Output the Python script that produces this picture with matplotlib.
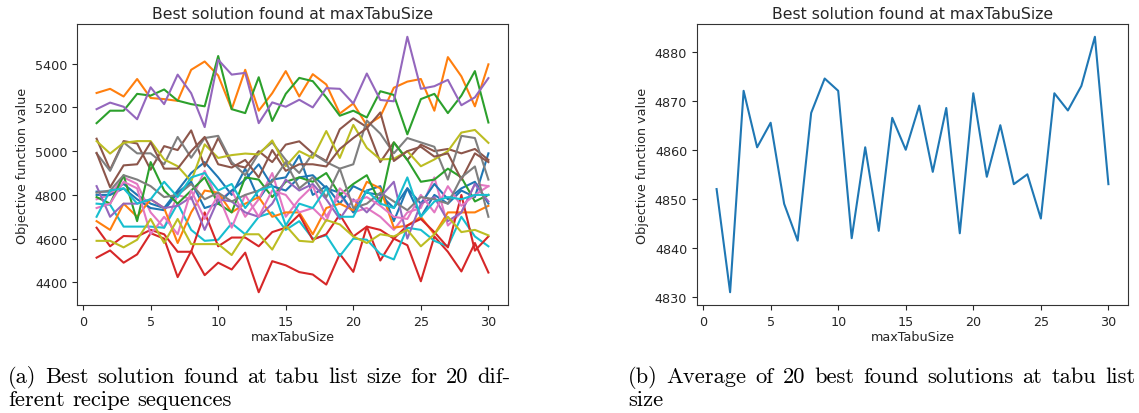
import numpy as np
import matplotlib.pyplot as plt

# maxTabuSize values
tabu_sizes = list(range(1, 31))

# best objective value per recipe sequence (20 sequences)
seq_blue_a = [4815, 4815, 4850, 4800, 4760, 4740, 4820, 4900, 4950, 4880, 4800, 4920, 4780, 4870, 4880,
              4980, 4800, 4840, 4760, 4840, 4810, 4800, 4740, 4830, 4700, 4800, 4760, 4820, 4790, 4990]
seq_orange_a = [5266, 5285, 5250, 5330, 5243, 5238, 5230, 5372, 5410, 5346, 5192, 5372, 5185, 5265, 5366,
                5250, 5352, 5305, 5172, 5218, 5118, 5158, 5290, 5318, 5330, 5185, 5430, 5342, 5205, 5397]
seq_green_a = [5128, 5185, 5185, 5262, 5254, 5282, 5231, 5215, 5205, 5435, 5192, 5174, 5338, 5138, 5262,
               5335, 5320, 5246, 5162, 5185, 5154, 5274, 5257, 5077, 5238, 5262, 5174, 5254, 5366, 5131]
seq_red_a = [4513, 4546, 4490, 4528, 4625, 4600, 4424, 4543, 4433, 4490, 4459, 4536, 4355, 4497, 4478,
             4447, 4436, 4390, 4530, 4448, 4655, 4500, 4600, 4570, 4405, 4610, 4540, 4450, 4580, 4445]
seq_purple_a = [5192, 5222, 5203, 5146, 5292, 5215, 5350, 5265, 5110, 5418, 5350, 5358, 5128, 5223, 5203,
                5235, 5200, 5288, 5285, 5218, 5355, 5234, 5228, 5523, 5285, 5297, 5326, 5210, 5246, 5334]
seq_brown_a = [5057, 4915, 5046, 5035, 4915, 5023, 5005, 5095, 4930, 5060, 4940, 4925, 5000, 4950, 5030,
               5045, 4990, 4955, 5100, 5150, 5110, 4950, 5040, 4960, 5030, 5000, 5010, 4990, 5010, 4960]
seq_pink_a = [4780, 4800, 4880, 4850, 4720, 4650, 4800, 4780, 4910, 4770, 4820, 4700, 4780, 4900, 4700,
              4780, 4840, 4700, 4800, 4720, 4740, 4700, 4640, 4720, 4740, 4880, 4660, 4720, 4850, 4840]
seq_gray_a = [4990, 4910, 5040, 4990, 4990, 4940, 5065, 4970, 5060, 5070, 4950, 4890, 4990, 5040, 4960,
              4900, 4990, 4950, 4920, 4940, 5140, 5080, 4990, 5060, 5040, 5020, 4870, 5070, 5060, 4870]
seq_olive_a = [5046, 4989, 5038, 5046, 5046, 4962, 4931, 4862, 5031, 4969, 4982, 4989, 4985, 5049, 4931,
               5000, 4969, 5092, 4969, 5120, 5015, 4962, 4965, 5000, 4931, 4962, 5000, 5085, 5097, 5038]
seq_cyan_a = [4760, 4755, 4655, 4655, 4655, 4650, 4760, 4640, 4590, 4595, 4670, 4620, 4700, 4720, 4640,
              4680, 4600, 4615, 4520, 4600, 4595, 4530, 4505, 4650, 4640, 4590, 4565, 4700, 4610, 4565]
seq_blue_b = [4800, 4800, 4830, 4780, 4740, 4730, 4810, 4860, 4740, 4760, 4820, 4870, 4940, 4840, 4820,
              4880, 4890, 4830, 4810, 4720, 4820, 4840, 4680, 4830, 4760, 4850, 4780, 4830, 4860, 4760]
seq_orange_b = [4680, 4640, 4760, 4700, 4780, 4740, 4580, 4720, 4820, 4810, 4720, 4760, 4790, 4700, 4720,
                4720, 4620, 4740, 4760, 4730, 4860, 4830, 4650, 4660, 4700, 4620, 4720, 4720, 4720, 4750]
seq_green_b = [4790, 4760, 4890, 4680, 4950, 4820, 4760, 4820, 4880, 4760, 4720, 4880, 4870, 4790, 4860,
               4880, 4860, 4900, 4800, 4850, 4890, 4760, 5040, 4960, 4860, 4870, 4920, 4880, 4770, 4800]
seq_red_b = [4650, 4565, 4612, 4610, 4640, 4620, 4540, 4540, 4720, 4565, 4605, 4605, 4565, 4630, 4650,
             4710, 4595, 4620, 4710, 4610, 4655, 4640, 4600, 4660, 4690, 4630, 4560, 4800, 4545, 4610]
seq_purple_b = [4840, 4700, 4760, 4760, 4780, 4740, 4750, 4790, 4640, 4780, 4770, 4720, 4700, 4760, 4870,
                4820, 4850, 4780, 4690, 4780, 4720, 4790, 4860, 4600, 4760, 4790, 4680, 4720, 4850, 4770]
seq_brown_b = [4992, 4835, 4935, 4940, 5040, 4920, 4920, 5000, 5065, 4940, 4925, 4960, 4880, 5005, 4910,
               4940, 4940, 4930, 5010, 5060, 5105, 5177, 4955, 5000, 5020, 4975, 4990, 4870, 4990, 4950]
seq_pink_b = [4740, 4760, 4860, 4830, 4620, 4700, 4620, 4820, 4690, 4800, 4650, 4800, 4700, 4820, 4800,
              4720, 4740, 4680, 4830, 4770, 4790, 4750, 4700, 4690, 4800, 4720, 4840, 4750, 4800, 4840]
seq_gray_b = [4810, 4820, 4890, 4870, 4840, 4790, 4800, 4850, 4780, 4810, 4770, 4800, 4820, 4860, 4950,
              4830, 4880, 4790, 4920, 4740, 4760, 4810, 4770, 4730, 4790, 4780, 4760, 4880, 4930, 4700]
seq_olive_b = [4590, 4590, 4560, 4595, 4690, 4580, 4690, 4575, 4575, 4575, 4525, 4620, 4620, 4550, 4660,
               4590, 4585, 4685, 4665, 4610, 4580, 4620, 4610, 4640, 4565, 4620, 4700, 4630, 4640, 4615]
seq_cyan_b = [4700, 4820, 4830, 4760, 4780, 4860, 4790, 4880, 4900, 4820, 4850, 4740, 4820, 4840, 4660,
              4760, 4740, 4830, 4700, 4700, 4820, 4760, 4740, 4880, 4700, 4770, 4790, 4780, 4800, 4800]

sequences = [seq_blue_a, seq_orange_a, seq_green_a, seq_red_a, seq_purple_a,
             seq_brown_a, seq_pink_a, seq_gray_a, seq_olive_a, seq_cyan_a,
             seq_blue_b, seq_orange_b, seq_green_b, seq_red_b, seq_purple_b,
             seq_brown_b, seq_pink_b, seq_gray_b, seq_olive_b, seq_cyan_b]

# average of the 20 best found solutions
avg_best = [4852, 4831, 4872, 4860.5, 4865.5, 4849, 4841.5, 4867.5, 4874.5, 4872,
            4842, 4860.5, 4843.5, 4866.5, 4860, 4869, 4855.5, 4868.5, 4843, 4871.5,
            4854.5, 4865, 4853, 4855, 4846, 4871.5, 4868, 4873, 4883, 4853]

W, H = 1139, 414
fig = plt.figure(figsize=(W / 100, H / 100), dpi=100)

txt_color = '#262626'
ax1 = fig.add_axes([77 / W, (H - 306) / H, 431 / W, 281 / H])
ax2 = fig.add_axes([697 / W, (H - 306) / H, 431 / W, 281 / H])

for s in sequences:
    ax1.plot(tabu_sizes, s, lw=1.5)
ax2.plot(tabu_sizes, avg_best, lw=1.5)

for ax in (ax1, ax2):
    ax.set_title("Best solution found at maxTabuSize", fontsize=11.3, color=txt_color, pad=4)
    ax.set_xlabel("maxTabuSize", fontsize=9.2, color=txt_color, labelpad=2)
    ax.set_ylabel("Objective function value", fontsize=9.2, color=txt_color)
    ax.tick_params(labelsize=9.2, colors=txt_color)
    ax.set_xticks([0, 5, 10, 15, 20, 25, 30])
    for sp in ax.spines.values():
        sp.set_color('#333333')
ax1.set_yticks([4400, 4600, 4800, 5000, 5200, 5400])
ax2.set_yticks([4830, 4840, 4850, 4860, 4870, 4880])

# captions, typeset roughly like a LaTeX subcaption (justified lines)
cap_fs = 16.2
renderer = fig.canvas.get_renderer()


def caption_line(words, x0, x1, baseline, justify=True):
    texts = [fig.text(0, (H - baseline) / H, w, fontsize=cap_fs, family='cmr10',
                      va='baseline', color='black') for w in words]
    widths = [t.get_window_extent(renderer).width for t in texts]
    if justify:
        gap = (x1 - x0 - sum(widths)) / (len(words) - 1)
    else:
        gap = cap_fs * 100 / 72 * 0.333
    x = x0
    for t, w in zip(texts, widths):
        t.set_x(x / W)
        x += w + gap


caption_line("(a) Best solution found at tabu list size for 20 dif-".split(), 8, 510, 383)
caption_line("ferent recipe sequences".split(), 8, 510, 406, justify=False)
caption_line("(b) Average of 20 best found solutions at tabu list".split(), 628, 1135, 383)
caption_line(["size"], 628, 1135, 406, justify=False)

fig.savefig("out.png", dpi=100)
